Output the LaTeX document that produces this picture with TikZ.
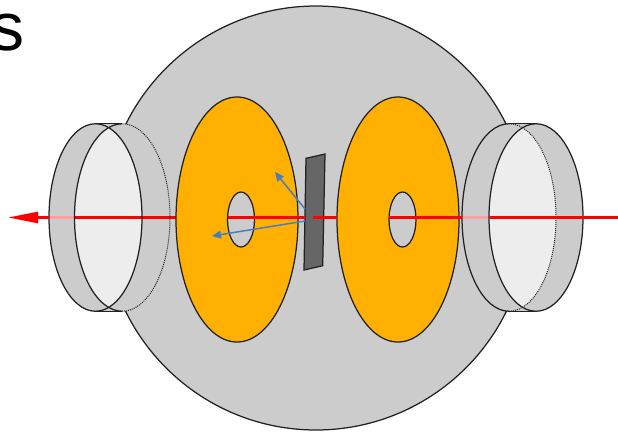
\documentclass[tikz,border=0pt]{standalone}
\usepackage{fontspec}
\setmainfont{Liberation Sans}
\usetikzlibrary{arrows.meta}
\definecolor{bodygray}{HTML}{CCCCCC}
\definecolor{lensgray}{HTML}{EDEDED}
\definecolor{disc}{HTML}{FFB000}
\definecolor{platec}{HTML}{666666}
\definecolor{edgec}{HTML}{222222}
\definecolor{ray}{HTML}{FF0000}
\definecolor{palered}{HTML}{FFA0A0}
\definecolor{scatter}{HTML}{4A7EBB}
\tikzset{
  edge/.style={draw=edgec,line width=1.25pt},
  dots/.style={draw=edgec,line width=1pt,densely dotted},
  beam/.style={draw=ray,line width=2.6pt},
  palebeam/.style={draw=palered,line width=2.6pt},
  bluearrow/.style={draw=scatter,line width=1.5pt,-{Triangle[length=9pt,width=8pt]}}
}
\begin{document}
\begin{tikzpicture}[x=1pt,y=-1pt]
\useasboundingbox (0,0) rectangle (618,431);
% named reference points
\coordinate (arrowtip) at (8,217.5);
\coordinate (leftedge) at (49,217.5);
\coordinate (leftlens) at (74.5,217.5);
\coordinate (disc1left) at (177,217.5);
\coordinate (hole1left) at (228,217.5);
\coordinate (plateleft) at (305,217.5);
\coordinate (plateright) at (313,217.5);
\coordinate (disc2left) at (337,217.5);
\coordinate (hole2left) at (389,217.5);
\coordinate (rightedge) at (462,217.5);
\coordinate (rightlens) at (489.5,217.5);
\coordinate (farright) at (618,217.5);
\coordinate (scatA) at (305,209);
\coordinate (scatAend) at (275,172);
\coordinate (scatB) at (305,221);
\coordinate (scatBend) at (212,236);

\node[anchor=base east,font=\fontsize{68}{68}\selectfont,inner sep=0pt] (word) at (24.5,50.5) {s};

% chamber
\path[fill=bodygray,edge] (316,218) circle[radius=212pt];

% left port
\path[fill=bodygray] (95.5,123.75) arc[start angle=90,end angle=270,x radius=46.5pt,y radius=93.75pt]
  -- (122.25,311.25) arc[start angle=-90,end angle=90,x radius=47.75pt,y radius=93.75pt] -- cycle;
\begin{scope}
  \clip (95.5,217.5) ellipse[x radius=46.5pt,y radius=93.75pt];
  \path[fill=lensgray] (122.25,217.5) ellipse[x radius=47.75pt,y radius=93.75pt];
\end{scope}
% right port
\path[fill=bodygray] (509,123.75) arc[start angle=90,end angle=270,x radius=47pt,y radius=93.75pt]
  -- (536,311.25) arc[start angle=-90,end angle=90,x radius=47pt,y radius=93.75pt] -- cycle;
\begin{scope}
  \clip (509,217.5) ellipse[x radius=47pt,y radius=93.75pt];
  \path[fill=lensgray] (536,217.5) ellipse[x radius=47pt,y radius=93.75pt];
\end{scope}

% beam beneath and through the ports
\draw[palebeam] (leftedge) -- (leftlens);
\draw[beam] (leftlens) -- (disc1left);
\draw[palebeam] (rightedge) -- (rightlens);

% port outlines, left
\draw[edge] (95.5,217.5) ellipse[x radius=46.5pt,y radius=93.75pt];
\draw[edge] (95.5,123.75) -- (122.25,123.75);
\draw[edge] (95.5,311.25) -- (122.25,311.25);
\draw[edge] (122.25,123.75) arc[start angle=90,end angle=270,x radius=47.75pt,y radius=93.75pt];
\draw[dots] (122.25,311.25) arc[start angle=-90,end angle=90,x radius=47.75pt,y radius=93.75pt];
% port outlines, right
\draw[edge] (509,123.75) arc[start angle=90,end angle=270,x radius=47pt,y radius=93.75pt];
\draw[dots] (509,311.25) arc[start angle=-90,end angle=90,x radius=47pt,y radius=93.75pt];
\draw[edge] (509,123.75) -- (536,123.75);
\draw[edge] (509,311.25) -- (536,311.25);
\draw[edge] (536,217.5) ellipse[x radius=47pt,y radius=93.75pt];

% discs
\path[fill=disc,edge] (237,219.5) ellipse[x radius=61pt,y radius=122.5pt];
\path[fill=bodygray,edge] (241,219.5) ellipse[x radius=13.5pt,y radius=27.5pt];
\path[fill=disc,edge] (398,219.5) ellipse[x radius=61pt,y radius=122.5pt];
\path[fill=bodygray,edge] (402.5,219.5) ellipse[x radius=13.5pt,y radius=27.5pt];

% plate
\path[fill=platec,edge] (306,158.3) -- (325,154) -- (322.7,265.7) -- (304,270) -- cycle;

% beam on top
\draw[beam] (hole1left) -- (plateleft);
\draw[beam] (plateright) -- (disc2left);
\draw[beam] (hole2left) -- (rightedge);
\draw[beam] (rightlens) -- (farright);
\draw[beam,-{Triangle[length=30pt,width=11pt]}] (leftedge) -- (arrowtip);

% scattered
\draw[bluearrow] (scatA) -- (scatAend);
\draw[bluearrow] (scatB) -- (scatBend);
\end{tikzpicture}
\end{document}
